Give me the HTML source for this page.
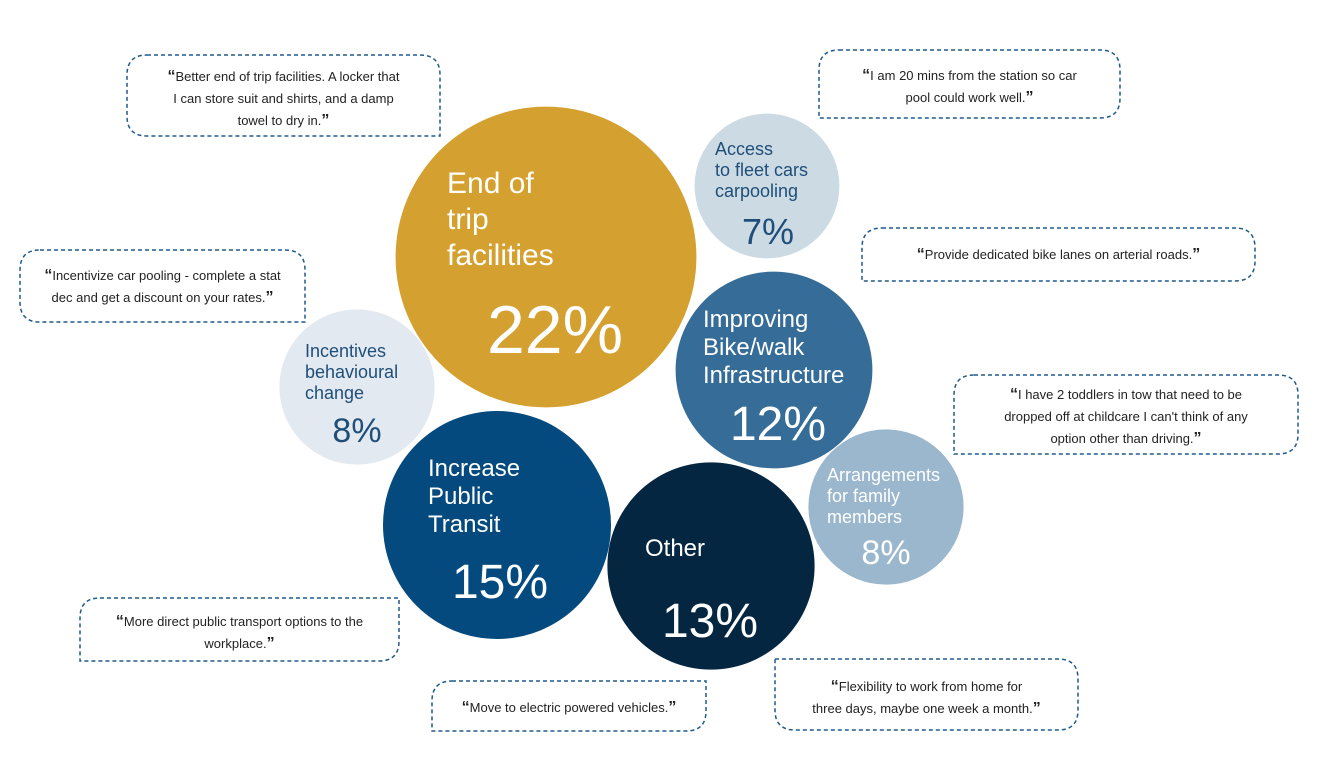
<!DOCTYPE html>
<html><head><meta charset="utf-8"><style>
body{margin:0;width:1325px;height:768px;background:#fff;overflow:hidden;font-family:"Liberation Sans",sans-serif}
svg{display:block}
</style></head><body>
<svg id="chart" width="1325" height="768"></svg>
<script>
const categories=["End of trip facilities","Access to fleet cars carpooling","Improving Bike/walk Infrastructure","Incentives behavioural change","Increase Public Transit","Other","Arrangements for family members"];
const values=[22,7,12,8,15,13,8];
const labelLines=[["End of","trip","facilities"],["Access","to fleet cars","carpooling"],["Improving","Bike/walk","Infrastructure"],["Incentives","behavioural","change"],["Increase","Public","Transit"],["Other"],["Arrangements","for family","members"]];
const quotes=[
 ["Better end of trip facilities.  A locker that","I can store suit and shirts, and a damp","towel to dry in."],
 ["I am 20 mins from the station so car","pool could work well."],
 ["Provide dedicated bike lanes on arterial roads."],
 ["Incentivize car pooling - complete a stat","dec and get a discount on your rates."],
 ["I have 2 toddlers in tow that need to be","dropped off at childcare I can't think of any","option other than driving."],
 ["More direct public transport options to the","workplace."],
 ["Move to electric powered vehicles."],
 ["Flexibility to work from home for","three days,  maybe one week a month."]
];
// layout (not data)
const NS="http://www.w3.org/2000/svg";
const svg=document.getElementById('chart');
function rScale(v){return 36+5.2*v;}
const layout=[
 {cx:546,cy:257,fill:"#D4A02F",tc:"#fff",lx:447,ly:193,fs:30,lh:36,px:555,py:353,ps:68},
 {cx:767,cy:186,fill:"#CCDAE4",tc:"#1F4E79",lx:715,ly:155,fs:18,lh:21,px:768,py:244,ps:36},
 {cx:774,cy:370,fill:"#356C98",tc:"#fff",lx:703,ly:327,fs:24,lh:28,px:778,py:440,ps:48},
 {cx:357,cy:387,fill:"#E2E9F0",tc:"#1F4E79",lx:305,ly:357,fs:18,lh:21,px:357,py:442,ps:34},
 {cx:497,cy:525,fill:"#054A7E",tc:"#fff",lx:428,ly:476,fs:24,lh:28,px:500,py:598,ps:48},
 {cx:711,cy:566,fill:"#052641",tc:"#fff",lx:645,ly:556,fs:24,lh:28,px:710,py:637,ps:48},
 {cx:886,cy:507,fill:"#9AB7CD",tc:"#fff",lx:827,ly:481,fs:18,lh:21,px:886,py:564,ps:34}
];
function mk(tag,attrs){const e=document.createElementNS(NS,tag);for(const k in attrs)e.setAttribute(k,attrs[k]);return e;}
values.forEach((v,i)=>{
 const L=layout[i];
 const g=mk('g',{});
 
 
 const c=mk('circle',{cx:L.cx,cy:L.cy,r:rScale(v),fill:L.fill});
 
 
 g.appendChild(c);
 labelLines[i].forEach((t,j)=>{
  const tx=mk('text',{x:L.lx,y:L.ly+j*L.lh,fill:L.tc,'font-size':L.fs});
  
  
  tx.textContent=t;g.appendChild(tx);
 });
 const p=mk('text',{x:L.px,y:L.py,fill:L.tc,'font-size':L.ps,'text-anchor':'middle'});
 
 
 p.textContent=v+'%';g.appendChild(p);
 svg.appendChild(g);
});
const boxes=[
 {x:127,y:55,w:313,h:81,ty:81,r:[20,20,0,20]},
 {x:819,y:50,w:301,h:68,ty:80,r:[20,20,20,0]},
 {x:862,y:228,w:393,h:53,ty:259,r:[20,20,20,0]},
 {x:20,y:250,w:285,h:72,ty:280,r:[20,20,0,20]},
 {x:954,y:375,w:344,h:79,ty:399,r:[20,20,20,0]},
 {x:80,y:598,w:319,h:63,ty:626,r:[20,0,20,0]},
 {x:432,y:681,w:274,h:50,ty:712,r:[20,0,20,0]},
 {x:775,y:659,w:303,h:71,ty:691,r:[0,20,20,20]}
];
function roundedPath(x,y,w,h,r){const [tl,tr,br,bl]=r;
 return `M${x+tl},${y}H${x+w-tr}Q${x+w},${y} ${x+w},${y+tr}V${y+h-br}Q${x+w},${y+h} ${x+w-br},${y+h}H${x+bl}Q${x},${y+h} ${x},${y+h-bl}V${y+tl}Q${x},${y} ${x+tl},${y}Z`;}
quotes.forEach((q,i)=>{
 const B=boxes[i];
 const g=mk('g',{});
 
 
 const p=mk('path',{d:roundedPath(B.x,B.y,B.w,B.h,B.r),fill:'none',stroke:'#1F5A8A','stroke-width':1.5,'stroke-dasharray':'4 3'});
 
 
 g.appendChild(p);
 q.forEach((line,j)=>{
  const t=mk('text',{x:B.x+B.w/2,y:B.ty+j*22,'font-size':13,fill:'#222','text-anchor':'middle'});
  
  
  let html=line;
  if(j===0) html='<tspan font-weight="bold" font-size="16">\u201C</tspan>'+html;
  if(j===q.length-1) html=html+'<tspan font-weight="bold" font-size="16">\u201D</tspan>';
  t.innerHTML=html;
  g.appendChild(t);
 });
 svg.appendChild(g);
});
</script>
</body></html>
